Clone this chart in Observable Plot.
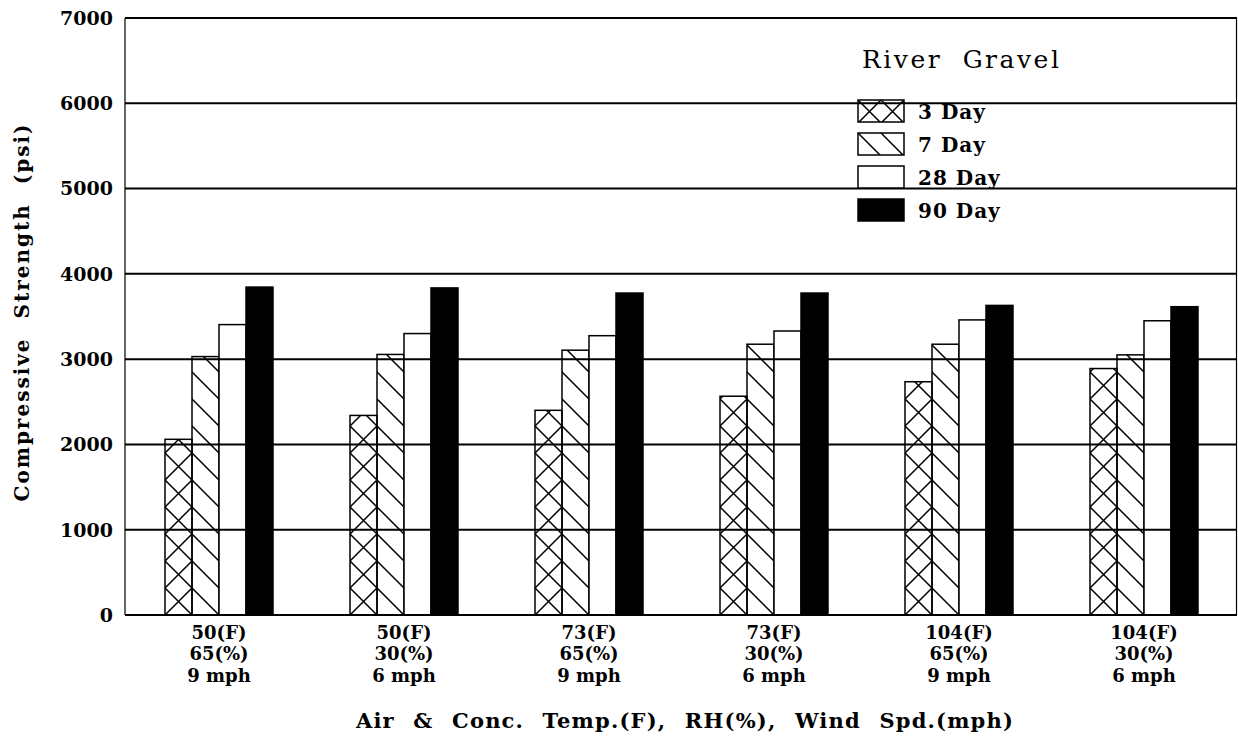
<!DOCTYPE html>
<html><head><meta charset="utf-8">
<script src="https://cdn.jsdelivr.net/npm/d3@7"></script>
<script src="https://cdn.jsdelivr.net/npm/@observablehq/plot@0.6"></script>
<style>
html,body{margin:0;padding:0;background:#fff;}
#chart{width:1238px;height:739px;}
</style></head><body><div id="chart"></div>
<script>
// ---- data ----
const temps = ["50", "50", "73", "73", "104", "104"];
const humidity = ["65", "30", "65", "30", "65", "30"];
const wind = ["9", "6", "9", "6", "9", "6"];
const ages = ["3 Day", "7 Day", "28 Day", "90 Day"];
const day3 = [2060, 2340, 2400, 2565, 2735, 2890];
const day7 = [3030, 3055, 3105, 3175, 3175, 3050];
const day28 = [3405, 3300, 3275, 3330, 3460, 3450];
const day90 = [3845, 3835, 3775, 3775, 3630, 3615];
const yTicks = [0, 1000, 2000, 3000, 4000, 5000, 6000, 7000];
const legendTitle = "River Gravel";
const xTitle = "Air & Conc. Temp.(F), RH(%), Wind Spd.(mph)";
const yTitle = "Compressive Strength (psi)";

const conditions = temps.map((t, i) => `${t}(F)\n${humidity[i]}(%)\n${wind[i]} mph`);
const series = [day3, day7, day28, day90];
const rows = [];
conditions.forEach((c, i) => ages.forEach((a, j) => rows.push({condition: c, age: a, value: series[j][i]})));

const fills = {"3 Day": "url(#hatch-cross)", "7 Day": "url(#hatch-diag)", "28 Day": "white", "90 Day": "black"};

const M = {left: 125, right: 1, top: 18, bottom: 124};
const plot = Plot.plot({
  width: 1238,
  height: 739,
  marginLeft: M.left,
  marginRight: M.right,
  marginTop: M.top,
  marginBottom: M.bottom,
  style: {fontFamily: "'DejaVu Serif', serif", fontWeight: "bold", color: "black", background: "white"},
  fx: {domain: conditions, paddingInner: 0.41, paddingOuter: 0.205, axis: null, label: null},
  x: {domain: ages, padding: 0, axis: null},
  y: {domain: [0, 7000], axis: null},
  marks: [
    ...ages.map(a => Plot.barY(rows.filter(r => r.age === a), {
      fx: "condition", x: "age", y: "value",
      fill: fills[a], stroke: "black", strokeWidth: 1.5
    })),
    Plot.axisFx({anchor: "bottom", tickSize: 0, tickPadding: 8, fontSize: 18, lineHeight: 1.2, label: null, fontWeight: "bold"})
  ]
});
document.getElementById("chart").appendChild(plot);

const svg = d3.select(plot);
const xs = plot.scale("x");
const ys = plot.scale("y");
const bw = xs.bandwidth;
const y0 = ys.apply(0);
const yTop = ys.apply(7000);
const left = M.left, right = 1238 - M.right;

// ---- frame sides, gridlines and y tick labels from the y scale ----
const grid = svg.append("g").attr("text-anchor", "end");
grid.append("line").attr("x1", left).attr("x2", left).attr("y1", yTop).attr("y2", y0).attr("stroke", "black").attr("stroke-width", 1.2);
grid.append("line").attr("x1", right - 0.5).attr("x2", right - 0.5).attr("y1", yTop).attr("y2", y0).attr("stroke", "black").attr("stroke-width", 1.2);
yTicks.forEach(t => {
  const yy = ys.apply(t);
  grid.append("line").attr("x1", left).attr("x2", right).attr("y1", yy).attr("y2", yy)
    .attr("stroke", "black").attr("stroke-width", 2);
  grid.append("text").attr("x", left - 12).attr("y", yy).attr("dy", "0.36em")
    .attr("font-size", 19).attr("font-weight", "bold").text(String(t));
});

// ---- hatch patterns, sized from the library's scales ----
const defs = svg.insert("defs", ":first-child");
function crossPattern(id, x, y, s) {
  const p = defs.append("pattern").attr("id", id).attr("patternUnits", "userSpaceOnUse")
    .attr("x", x).attr("y", y).attr("width", s).attr("height", s);
  p.append("path").attr("d", `M0,0L${s},${s}M${s},0L0,${s}`).attr("stroke", "black").attr("stroke-width", 1.5).attr("fill", "none");
}
function diagPattern(id, x, y, s) {
  const p = defs.append("pattern").attr("id", id).attr("patternUnits", "userSpaceOnUse")
    .attr("x", x).attr("y", y).attr("width", s).attr("height", s);
  p.append("path").attr("d", `M0,0L${s},${s}M-2,${s-2}L2,${s+2}M${s-2},-2L${s+2},2`).attr("stroke", "black").attr("stroke-width", 1.5).attr("fill", "none");
}
crossPattern("hatch-cross", xs.apply("3 Day"), y0, bw);
diagPattern("hatch-diag", xs.apply("7 Day"), y0, bw);

// ---- titles ----
svg.append("text").attr("x", 685).attr("y", 728).attr("text-anchor", "middle")
  .attr("font-size", 21).attr("font-weight", "bold").attr("letter-spacing", 1.2).attr("word-spacing", 10)
  .text(xTitle);
svg.append("text").attr("transform", "translate(29,312) rotate(-90)").attr("text-anchor", "middle")
  .attr("font-size", 20).attr("font-weight", "bold").attr("letter-spacing", 2).attr("word-spacing", 10)
  .text(yTitle);

// ---- legend ----
const lg = svg.append("g").attr("text-anchor", "start");
lg.append("text").attr("x", 862).attr("y", 68).attr("font-size", 25).attr("font-weight", "normal")
  .attr("letter-spacing", 2.5).attr("word-spacing", 10).text(legendTitle);
const legFill = {"3 Day": "url(#leg-cross)", "7 Day": "url(#leg-diag)", "28 Day": "white", "90 Day": "black"};
ages.forEach((a, i) => {
  const by = 100 + i * 33;
  if (i === 0) crossPattern("leg-cross", 858, by, 23);
  if (i === 1) diagPattern("leg-diag", 858, by, 23);
  lg.append("rect").attr("x", 858).attr("y", by).attr("width", 46).attr("height", 22)
    .attr("fill", legFill[a]).attr("stroke", "black").attr("stroke-width", 1.5);
  lg.append("text").attr("x", 918).attr("y", by + 19).attr("font-size", 20).attr("font-weight", "bold")
    .attr("letter-spacing", 1).text(a);
});
</script></body></html>
